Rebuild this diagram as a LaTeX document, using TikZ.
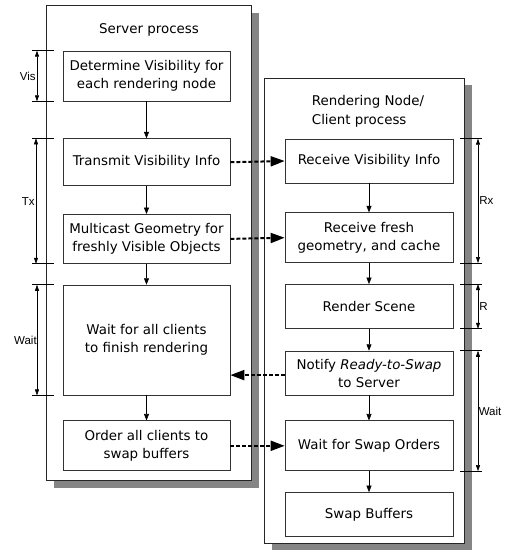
\documentclass[tikz,border=0pt]{standalone}
\usepackage{fontspec}
\setmainfont{DejaVu Sans}
\newfontfamily\dimfont{Liberation Sans}
\usetikzlibrary{arrows.meta,positioning}

\begin{document}
\begin{tikzpicture}[x=1pt, y=1pt,
  frame/.style={draw=black!85, fill=white, line width=0.8pt},
  shadow/.style={fill=black!48},
  box/.style={draw=black!80, line width=0.7pt, fill=white, align=center,
              minimum width=167pt, inner sep=2pt,
              font=\fontsize{13.4}{18}\selectfont},
  title/.style={font=\fontsize{13.4}{19}\selectfont},
  arrow/.style={-{Triangle[length=6.5pt,width=5pt]}, line width=0.6pt},
  msg/.style={-{Triangle[length=14pt,width=10pt]}, line width=2pt,
              dash pattern=on 4pt off 2pt},
  dim/.style={{Triangle[length=6pt,width=4pt]}-{Triangle[length=6pt,width=4pt]},
              line width=0.55pt},
  tick/.style={line width=0.55pt},
  dimlabel/.style={font=\dimfont\fontsize{11.5}{13}\selectfont, inner sep=1pt}
]
\useasboundingbox (0,0) rectangle (508,-550);

% process frames with drop shadows
\fill[shadow] (54,-13) rectangle (259,-488);
\draw[frame] (46,-5) rectangle (251,-480);
\fill[shadow] (272,-85) rectangle (472,-550);
\draw[frame] (264,-78) rectangle (464,-543);

% server process
\node[title] (srvtitle) at (149,-30) {Server process};
\node[box, minimum height=50pt] (det) at (146.5,-76) {Determine Visibility for\\each rendering node};
\node[box, minimum height=47pt, below=37pt of det] (trans) {Transmit Visibility Info};
\node[box, minimum height=49pt, below=28pt of trans] (multi) {Multicast Geometry for\\freshly Visible Objects};
\node[box, minimum height=110pt, below=21pt of multi] (waitall) {Wait for all clients\\to finish rendering};
\node[box, minimum height=50pt, below=25pt of waitall] (order) {Order all clients to\\swap buffers};

\draw[arrow] (det) -- (trans);
\draw[arrow] (trans) -- (multi);
\draw[arrow] (multi) -- (waitall);
\draw[arrow] (waitall) -- (order);

% client process
\node[title, align=left] (clititle) at (368,-111.5) {Rendering Node/\\Client process};
\node[box, minimum width=168pt, minimum height=44pt] (recvis) at (369,-161) {Receive Visibility Info};
\node[box, minimum width=168pt, minimum height=50pt, below=29pt of recvis] (recgeo) {Receive fresh\\geometry, and cache};
\node[box, minimum width=168pt, minimum height=44pt, below=21pt of recgeo] (render) {Render Scene};
\node[box, minimum width=168pt, minimum height=44pt, below=22pt of render] (notify) {Notify \textit{Ready-to-Swap}\\to Server};
\node[box, minimum width=168pt, minimum height=50pt, below=25pt of notify] (waitswap) {Wait for Swap Orders};
\node[box, minimum width=168pt, minimum height=44pt, below=21pt of waitswap] (swap) {Swap Buffers};

\draw[arrow] (recvis) -- (recgeo);
\draw[arrow] (recgeo) -- (render);
\draw[arrow] (render) -- (notify);
\draw[arrow] (notify) -- (waitswap);
\draw[arrow] (waitswap) -- (swap);

% messages between the processes
\draw[msg] (trans.east) -- (recvis.west);
\draw[msg] (multi.east) -- (recgeo.west);
\draw[msg] ([yshift=-2pt]notify.west) -- ([yshift=-2pt]notify.west -| waitall.east);
\draw[msg] (order.east) -- (waitswap.west);

% timing marks, server side
\foreach \a in {det.north, det.south, trans.north, multi.south, waitall.north, waitall.south}
  \draw[tick] ([xshift=-114.5pt]\a) -- ([xshift=-92.5pt]\a);
\draw[dim] ([xshift=-109.5pt]det.north) -- node[dimlabel, left] {Vis} ([xshift=-109.5pt]det.south);
\draw[dim] ([xshift=-110.5pt]trans.north) -- node[dimlabel, left] {Tx} ([xshift=-110.5pt]multi.south);
\draw[dim] ([xshift=-109.5pt]waitall.north) -- node[dimlabel, left, inner sep=0pt] {Wait} ([xshift=-109.5pt]waitall.south);

% timing marks, client side
\foreach \a in {recvis.north, recgeo.south, render.north, render.south, notify.north, waitswap.south}
  \draw[tick] ([xshift=91pt]\a) -- ([xshift=113pt]\a);
\draw[dim] ([xshift=109pt]recvis.north) -- node[dimlabel, right] {Rx} ([xshift=109pt]recgeo.south);
\draw[dim] ([xshift=109pt]render.north) -- node[dimlabel, right] {R} ([xshift=109pt]render.south);
\draw[dim] ([xshift=109pt]notify.north) -- node[dimlabel, right, inner sep=0.5pt] {Wait} ([xshift=109pt]waitswap.south);
\end{tikzpicture}
\end{document}
